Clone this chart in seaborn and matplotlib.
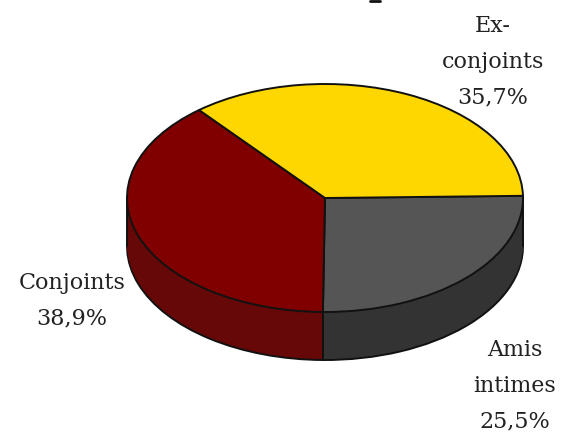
import matplotlib
matplotlib.use("Agg")
import matplotlib.pyplot as plt
import numpy as np
import seaborn as sns

categories = ["Amis\nintimes", "Conjoints", "Ex-\nconjoints"]
shares = [25.5, 38.9, 35.7]
share_labels = ["25,5%", "38,9%", "35,7%"]
top_colors = ["#555555", "#800000", "#FFD700"]
side_colors = ["#333333", "#660808", "#A08800"]

sns.set_theme(style="white")
plt.rcParams["font.family"] = ["DejaVu Serif", "DejaVu Sans"]

fig, ax = plt.subplots(figsize=(5.62, 4.38), dpi=100)
fig.subplots_adjust(0, 0, 1, 1)

# pixel layout of the disc
cx, cy, rx, ry, depth = 325, 198, 198, 114, 48
dz = depth / ry
start = 1.1

edge = dict(edgecolor="#111111", linewidth=1.4)
ax.pie(shares, colors=side_colors, startangle=start, counterclock=False,
       center=(0, -dz), wedgeprops=edge)
for k in range(1, 24):
    ax.pie(shares, colors=side_colors, startangle=start, counterclock=False,
           center=(0, -dz + k * dz / 24), wedgeprops=dict(linewidth=0))

# wall edges: both ends of the disc and the slice boundary in front
ax.plot([-1, -1], [0, -dz], color="#111111", lw=1.4)
ax.plot([1, 1], [0, -dz], color="#111111", lw=1.4)
front = np.radians(start - 360 * shares[0] / sum(shares))
ax.plot([np.cos(front)] * 2, [np.sin(front), np.sin(front) - dz], color="#111111", lw=1.4)

ax.pie(shares, colors=top_colors, startangle=start, counterclock=False,
       center=(0, 0), wedgeprops=edge)

ax.set_aspect("auto")
ax.set_xlim(-cx / rx, (562 - cx) / rx)
ax.set_ylim((cy - 438) / ry, cy / ry)

label_xy = [(515, 386), (72, 301), (493, 62)]
for name, pct, (x, y) in zip(categories, share_labels, label_xy):
    fig.text(x / 562, 1 - y / 438, name + "\n" + pct, ha="center", va="center",
             fontsize=16, linespacing=1.8, color="#222222")

# cut-off scrap of ink at the top edge
fig.add_artist(plt.Line2D([370 / 562, 380 / 562], [1 - 1 / 438] * 2, color="#111111", lw=2))

fig.savefig("out.png", dpi=100)
